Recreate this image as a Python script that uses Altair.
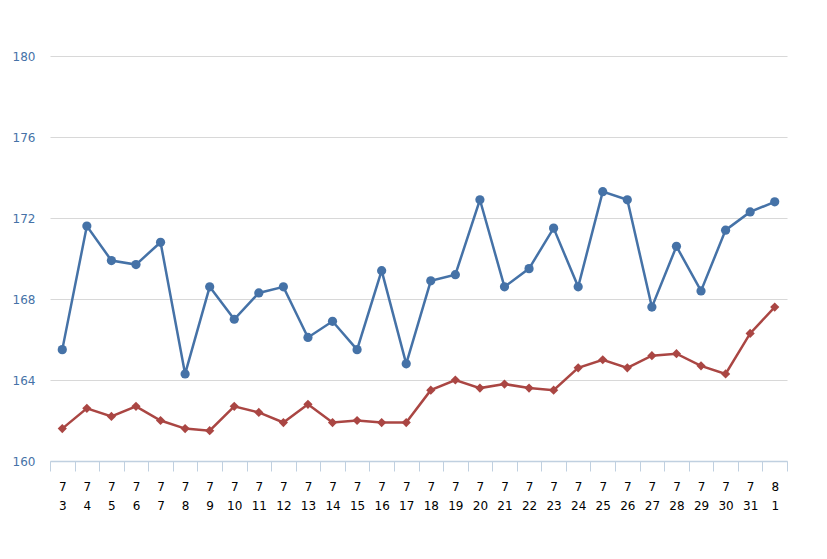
import altair as alt
import pandas as pd

dates = ["7/3", "7/4", "7/5", "7/6", "7/7", "7/8", "7/9", "7/10", "7/11", "7/12",
         "7/13", "7/14", "7/15", "7/16", "7/17", "7/18", "7/19", "7/20", "7/21", "7/22",
         "7/23", "7/24", "7/25", "7/26", "7/27", "7/28", "7/29", "7/30", "7/31", "8/1"]

board_price = [165.5, 171.6, 169.9, 169.7, 170.8, 164.3, 168.6, 167.0, 168.3, 168.6,
               166.1, 166.9, 165.5, 169.4, 164.8, 168.9, 169.2, 172.9, 168.6, 169.5,
               171.5, 168.6, 173.3, 172.9, 167.6, 170.6, 168.4, 171.4, 172.3, 172.8]

actual_price = [161.6, 162.6, 162.2, 162.7, 162.0, 161.6, 161.5, 162.7, 162.4, 161.9,
                162.8, 161.9, 162.0, 161.9, 161.9, 163.5, 164.0, 163.6, 163.8, 163.6,
                163.5, 164.6, 165.0, 164.6, 165.2, 165.3, 164.7, 164.3, 166.3, 167.6]

series_names = ["レギュラー看板価格(円/L)", "レギュラー実売価格(円/L)"]
series_colors = ["#4572A7", "#AA4643"]
series_shapes = ["circle", "diamond"]
y_ticks = [160, 164, 168, 172, 176, 180]

rows = []
for d, v in zip(dates, board_price):
    rows.append({"date": d, "price": v, "series": series_names[0]})
for d, v in zip(dates, actual_price):
    rows.append({"date": d, "price": v, "series": series_names[1]})
df = pd.DataFrame(rows)

color_scale = alt.Scale(domain=series_names, range=series_colors)
shape_scale = alt.Scale(domain=series_names, range=series_shapes)

x_enc = alt.X("date:N", sort=dates, title=None,
              scale=alt.Scale(paddingInner=0, paddingOuter=0),
              axis=alt.Axis(labelAngle=0,
                            labelExpr="isValid(datum.value) ? split(datum.value, '/') : ''",
                            labelColor="#000000", labelFontSize=12, labelPadding=10,
                            labelLineHeight=19, labelBaseline="top",
                            domainColor="#C0D0E0", domainWidth=1.5,
                            tickColor="#C0D0E0", tickSize=10, tickBand="extent",
                            grid=False))
y_enc = alt.Y("price:Q", title=None,
              scale=alt.Scale(domain=[160, 180], nice=False, zero=False),
              axis=alt.Axis(values=y_ticks, labelColor="#4572A7", labelFontSize=12,
                            labelPadding=15, ticks=False, domain=False,
                            gridColor="#D8D8D8", gridWidth=1.2))

legend = alt.Legend(title=None, orient="bottom", direction="horizontal",
                    offset=8, labelFontSize=13, labelColor="#274B6D",
                    labelFont="Noto Sans CJK JP",
                    symbolSize=110, columnPadding=30)

base = alt.Chart(df)

lines = base.mark_line(strokeWidth=2.5).encode(
    x=x_enc, y=y_enc,
    color=alt.Color("series:N", scale=color_scale, legend=None),
)

points = base.mark_point(filled=True, opacity=1, size=85).encode(
    x=x_enc, y=y_enc,
    color=alt.Color("series:N", scale=color_scale, title=None, legend=legend),
    shape=alt.Shape("series:N", scale=shape_scale, title=None, legend=legend),
)

chart = alt.layer(lines, points).properties(
    width=737, height=405,
    autosize=alt.AutoSizeParams(type="none"),
    padding={"left": 42, "top": 48, "right": 30, "bottom": 86},
).configure_view(stroke=None).configure_axis(labelFont="DejaVu Sans")

chart.save("out.html", embed_options={"renderer": "svg", "actions": False})
